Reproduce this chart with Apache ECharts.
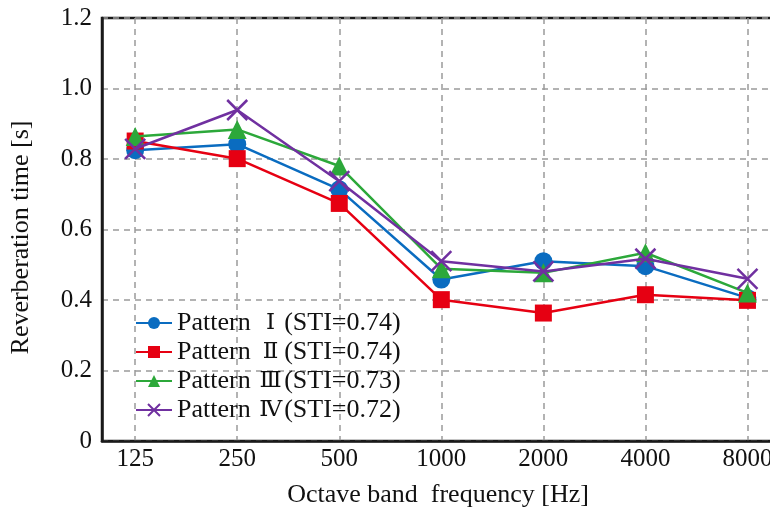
<!DOCTYPE html>
<html>
<head>
<meta charset="utf-8">
<script src="https://cdn.jsdelivr.net/npm/echarts@6/dist/echarts.min.js"></script>
<style>html,body{margin:0;padding:0;background:#fff;}#c{width:770px;height:516px;}</style>
</head>
<body>
<div id="c"></div>
<script>
const categories = ['125', '250', '500', '1000', '2000', '4000', '8000'];
const seriesNames = ['Pattern Ⅰ(STI=0.74)', 'Pattern Ⅱ(STI=0.74)', 'Pattern Ⅲ(STI=0.73)', 'Pattern Ⅳ(STI=0.72)'];
const pattern1 = [0.825, 0.842, 0.714, 0.458, 0.510, 0.496, 0.406];
const pattern2 = [0.851, 0.801, 0.674, 0.401, 0.363, 0.415, 0.399];
const pattern3 = [0.864, 0.884, 0.780, 0.489, 0.477, 0.534, 0.420];
const pattern4 = [0.829, 0.939, 0.737, 0.510, 0.481, 0.517, 0.460];

const colors = ['#0a6cc0', '#e60012', '#2ca83a', '#7030a0'];
const symbols = ['circle', 'rect', 'triangle', 'path://M0,0 L2,2 M2,0 L0,2'];
const sizes = [18, 17, 19, 20];
const allData = [pattern1, pattern2, pattern3, pattern4];
const idx = categories.map((c, i) => i);
const font = 'Liberation Serif';

const chart = echarts.init(document.getElementById('c'));
const series = allData.map((vals, k) => ({
  name: seriesNames[k],
  type: 'line',
  data: vals.map((v, i) => [i, v]),
  symbol: symbols[k],
  symbolSize: sizes[k],
  lineStyle: { color: colors[k], width: 2.5 },
  itemStyle: k === 3 ? { color: 'none', borderColor: colors[k], borderWidth: 2.5 } : { color: colors[k] },
  emphasis: { disabled: true },
  z: 2 + k
}));

chart.setOption({
  animation: false,
  color: colors,
  grid: { left: 102, right: -4, top: 18, bottom: 75, outerBoundsMode: 'none', show: true, borderColor: '#1a1a1a', borderWidth: 2.5, backgroundColor: 'transparent' },
  legend: {
    orient: 'vertical', left: 130, top: 305, itemWidth: 36, itemHeight: 15, itemGap: 3,
    formatter: function (name) {
      const m = name.match(/^(Pattern )(\S)(.*)$/);
      return '{a|' + m[1] + '}{r|' + m[2] + '}{a|' + m[3] + '}';
    },
    textStyle: {
      fontFamily: font, fontSize: 26, color: '#111', lineHeight: 26,
      rich: {
        a: { fontFamily: font, fontSize: 26, color: '#111', lineHeight: 26 },
        r: { fontFamily: 'DejaVu Serif', fontSize: 23, color: '#111', lineHeight: 26, width: 27, align: 'center' }
      }
    },
    data: seriesNames
  },
  xAxis: {
    type: 'value', min: -0.325, max: 6.26,
    name: 'Octave band  frequency [Hz]', nameLocation: 'middle', nameGap: 41,
    nameTextStyle: { fontFamily: font, fontSize: 26, color: '#111' },
    axisLine: { show: true, onZero: false, lineStyle: { color: '#1a1a1a', width: 2.5 } },
    axisTick: { show: false, customValues: idx },
    axisLabel: { customValues: idx, formatter: v => categories[Math.round(v)], fontFamily: font, fontSize: 25, color: '#111', margin: 6 },
    splitLine: { show: true, lineStyle: { color: '#9a9a9a', width: 1.5, type: [6, 5] } }
  },
  yAxis: {
    type: 'value', min: 0, max: 1.2, interval: 0.2,
    name: 'Reverberation time [s]', nameLocation: 'middle', nameGap: 68,
    nameTextStyle: { fontFamily: font, fontSize: 26, color: '#111', padding: [0, 16, 0, 0] },
    axisLine: { show: true, onZero: false, lineStyle: { color: '#1a1a1a', width: 2.5 } },
    axisTick: { show: false },
    axisLabel: { formatter: v => v === 0 ? '0' : v.toFixed(1), fontFamily: font, fontSize: 25, color: '#111', margin: 10 },
    splitLine: { show: true, lineStyle: { color: '#9a9a9a', width: 1.5, type: [6, 5] } }
  },
  series: series
});
</script>
</body>
</html>
